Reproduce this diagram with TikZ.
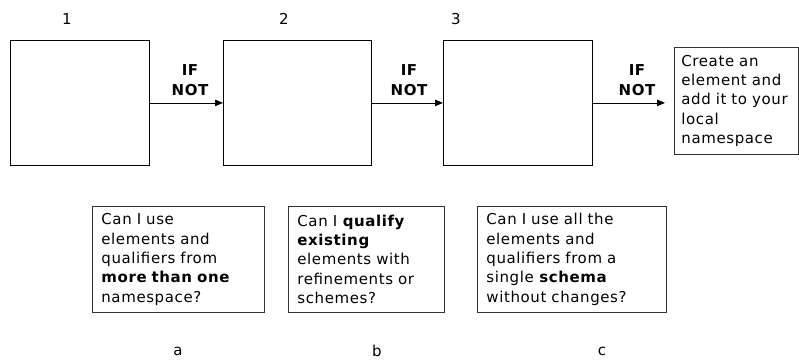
\documentclass[tikz,border=0pt]{standalone}
\usepackage{fontspec}
\setmainfont{DejaVu Sans}[LetterSpace=4]
\usetikzlibrary{arrows.meta}
\begin{document}
\begin{tikzpicture}[x=1pt,y=-1pt,
  font=\fontsize{15}{19.4}\selectfont,
  bigbox/.style={draw=black,line width=0.8pt,anchor=north west,inner sep=0pt},
  qbox/.style={draw=black!80,line width=0.8pt,anchor=north west,inner xsep=9pt,inner ysep=0pt,align=left},
  iflabel/.style={font=\fontsize{15}{19.4}\selectfont\bfseries,align=center},
  conn/.style={line width=0.8pt,-{Triangle[length=8pt,width=6.5pt]}}]
\useasboundingbox (0,0) rectangle (799,361);
% big empty boxes
\node[bigbox,minimum width=139pt,minimum height=125pt] (b1) at (10,40) {};
\node[bigbox,minimum width=148pt,minimum height=125pt] (b2) at (223,40) {};
\node[bigbox,minimum width=149pt,minimum height=125pt] (b3) at (443,40) {};
\node[qbox,inner xsep=7pt,text width=110pt,minimum height=107pt] (b4) at (674,47) {Create an\\element and\\add it to your\\local\\namespace};
% numbers
\node (n1) at (67,19) {1};
\node (n2) at (284,19) {2};
\node (n3) at (456,19) {3};
% connectors
\draw[conn] (b1.east) -- (b2.west);
\draw[conn] (b2.east) -- (b3.west);
\draw[conn,shorten >=9pt] (b3.east) -- (b3.east -| b4.west);
\node[iflabel] (l1) at (190,80) {IF\\NOT};
\node[iflabel] (l2) at (409,80) {IF\\NOT};
\node[iflabel] (l3) at (637,80) {IF\\NOT};
% question boxes
\node[qbox,text width=154pt,minimum height=106pt] (qa) at (92,206) {Can I use\\elements and\\qualifiers from\\\textbf{more than one}\\namespace?};
\node[qbox,text width=138pt,minimum height=106pt] (qb) at (288,206) {Can I \textbf{qualify}\\\textbf{existing}\\elements with\\refinements or\\schemes?};
\node[qbox,text width=171pt,minimum height=106pt] (qc) at (477,206) {Can I use all the\\elements and\\qualifiers from a\\single \textbf{schema}\\without changes?};
% letters
\node (la) at (178,351) {a};
\node (lb) at (377,351) {b};
\node (lc) at (602,351) {c};
\end{tikzpicture}
\end{document}
